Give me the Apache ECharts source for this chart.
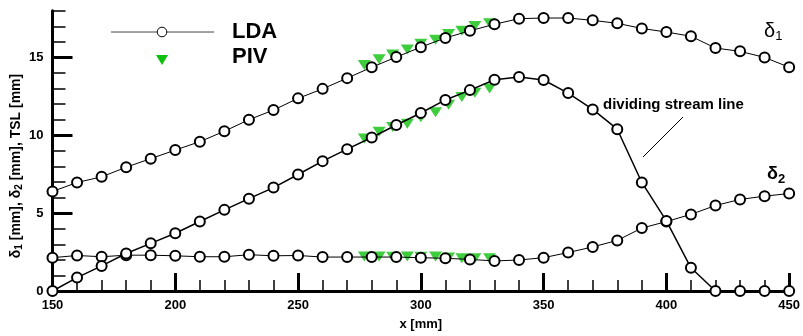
<!DOCTYPE html>
<html>
<head>
<meta charset="utf-8">
<script src="https://cdn.jsdelivr.net/npm/echarts@6/dist/echarts.min.js"></script>
<style>
  html, body { margin: 0; padding: 0; background: #fff; }
  #chart { width: 803px; height: 336px; }
</style>
</head>
<body>
<div id="chart"></div>
<script>
// LDA stations, x [mm]
const xLDA = [150, 160, 170, 180, 190, 200, 210, 220, 230, 240, 250, 260, 270, 280, 290, 300,
  310, 320, 330, 340, 350, 360, 370, 380, 390, 400, 410, 420, 430, 440, 450];
const delta1LDA = [6.39, 6.97, 7.33, 7.95, 8.5, 9.05, 9.59, 10.26, 11.0, 11.62, 12.37, 12.98, 13.67, 14.37, 15.02, 15.66,
  16.25, 16.71, 17.13, 17.49, 17.53, 17.53, 17.38, 17.19, 16.86, 16.63, 16.36, 15.6, 15.39, 15.0, 14.37];
const delta2LDA = [2.14, 2.28, 2.2, 2.3, 2.3, 2.26, 2.2, 2.2, 2.33, 2.26, 2.28, 2.18, 2.18, 2.18, 2.18, 2.14,
  2.1, 2.03, 1.93, 1.99, 2.14, 2.47, 2.83, 3.25, 4.04, 4.46, 4.92, 5.49, 5.88, 6.09, 6.26];
const tslLDA = [0, 0.86, 1.61, 2.41, 3.06, 3.71, 4.46, 5.21, 5.93, 6.64, 7.48, 8.34, 9.11, 9.86, 10.66, 11.43,
  12.27, 12.9, 13.57, 13.74, 13.55, 12.71, 11.66, 10.39, 6.97, 4.5, 1.49, 0, 0, 0, 0];

// PIV stations
const xPIV = [277, 283, 288.5, 294.5, 300, 306, 311.3, 316.7, 322, 328];
const delta1PIV = [14.51, 14.89, 15.18, 15.51, 15.87, 16.14, 16.5, 16.71, 17.02, 17.19];
const tslPIV = [9.8, 10.22, 10.53, 10.74, 11.16, 11.48, 11.96, 12.46, 12.73, 13.0];
const delta2PIV = [2.22, 2.22, 2.2, 2.22, 2.2, 2.22, 2.15, 2.1, 2.1, 2.1];

// axis ticks
const yMinorTicks = [0, 1, 2, 3, 4, 5, 6, 7, 8, 9, 10, 11, 12, 13, 14, 15, 16, 17, 18];
const yMajorTicks = [0, 5, 10, 15];

const FONT = "'Liberation Sans', Arial, sans-serif";
const GREEN = '#0cc00c';

const zip = (xs, ys) => xs.map((x, i) => [x, ys[i]]);

const chart = echarts.init(document.getElementById('chart'), null, { renderer: 'canvas' });

const ldaSeries = (name, ys, bold) => ({
  type: 'line',
  name,
  data: zip(xLDA, ys),
  symbol: 'emptyCircle',
  symbolSize: 10,
  clip: false,
  z: 5,
  lineStyle: { color: '#000', width: bold ? 1.5 : 1 },
  itemStyle: { color: '#000', borderWidth: bold ? 2 : 1 },
  animation: false,
});

const pivSeries = (name, ys) => ({
  type: 'scatter',
  name,
  data: zip(xPIV, ys),
  symbol: 'triangle',
  symbolRotate: 180,
  symbolSize: [13, 10],
  z: 3,
  itemStyle: { color: GREEN },
  animation: false,
});

const option = {
  animation: false,
  grid: { left: 52.5, right: 5, top: 10.7, bottom: 38.3, containLabel: false },
  xAxis: {
    type: 'value',
    min: 150,
    max: 450,
    interval: 50,
    name: 'x [mm]',
    nameLocation: 'middle',
    nameGap: 27,
    nameTextStyle: { fontFamily: FONT, fontWeight: 'bold', fontSize: 13, color: '#000' },
    axisLine: { show: true, lineStyle: { color: '#000', width: 3 } },
    axisTick: { show: true, inside: true, length: 18, lineStyle: { color: '#000', width: 3 } },
    minorTick: { show: true, splitNumber: 5, length: 11, lineStyle: { color: '#000', width: 1.5 } },
    axisLabel: { fontFamily: FONT, fontWeight: 'bold', fontSize: 13, color: '#000', margin: 8 },
    splitLine: { show: false },
  },
  yAxis: [
    {
      type: 'value',
      min: 0,
      max: 18,
      position: 'left',
      axisLine: { show: true, onZero: false, lineStyle: { color: '#000', width: 3 } },
      axisTick: { show: true, inside: true, length: 13, customValues: yMinorTicks, lineStyle: { color: '#000', width: 1.5 } },
      axisLabel: { show: false },
      splitLine: { show: false },
    },
    {
      type: 'value',
      min: 0,
      max: 18,
      position: 'left',
      offset: 0,
      axisLine: { show: false },
      axisTick: { show: true, inside: true, length: 20, customValues: yMajorTicks, lineStyle: { color: '#000', width: 3 } },
      axisLabel: { show: true, customValues: yMajorTicks, fontFamily: FONT, fontWeight: 'bold', fontSize: 13, color: '#000', margin: 9 },
      splitLine: { show: false },
    },
  ],
  series: [
    pivSeries('PIV δ1', delta1PIV),
    pivSeries('PIV TSL', tslPIV),
    pivSeries('PIV δ2', delta2PIV),
    ldaSeries('δ1', delta1LDA, false),
    ldaSeries('δ2', delta2LDA, false),
    ldaSeries('TSL', tslLDA, true),
  ],
  graphic: [
    // y axis title
    {
      type: 'text',
      x: 16,
      y: 166,
      rotation: Math.PI / 2,
      style: {
        text: '{n|δ}{s|1}{n| [mm], δ}{s|2}{n| [mm], TSL [mm]}',
        align: 'center',
        verticalAlign: 'middle',
        rich: {
          n: { fontFamily: FONT, fontWeight: 'bold', fontSize: 14, fill: '#000' },
          s: { fontFamily: FONT, fontWeight: 'bold', fontSize: 10, fill: '#000', verticalAlign: 'bottom', padding: [6, 0, 0, 0] },
        },
      },
    },
    // legend
    { type: 'line', shape: { x1: 111, y1: 32, x2: 214, y2: 32 }, style: { stroke: '#444', lineWidth: 1 } },
    { type: 'circle', shape: { cx: 162, cy: 32, r: 4.8 }, style: { fill: '#fff', stroke: '#000', lineWidth: 1 } },
    { type: 'text', x: 232, y: 31.5, style: { text: 'LDA', fontFamily: FONT, fontWeight: 'bold', fontSize: 22, fill: '#000', verticalAlign: 'middle' } },
    { type: 'polygon', shape: { points: [[156, 55], [168, 55], [162, 65]] }, style: { fill: GREEN } },
    { type: 'text', x: 232, y: 57, style: { text: 'PIV', fontFamily: FONT, fontWeight: 'bold', fontSize: 22, fill: '#000', verticalAlign: 'middle' } },
    // curve labels
    {
      type: 'text', x: 764, y: 20,
      style: {
        text: '{d|δ}{s|1}',
        rich: {
          d: { fontFamily: FONT, fontSize: 20, fill: '#000' },
          s: { fontFamily: FONT, fontSize: 13, fill: '#000', verticalAlign: 'bottom', padding: [10, 0, 0, 0] },
        },
      },
    },
    {
      type: 'text', x: 767, y: 163,
      style: {
        text: '{d|δ}{s|2}',
        rich: {
          d: { fontFamily: FONT, fontWeight: 'bold', fontSize: 18, fill: '#000' },
          s: { fontFamily: FONT, fontWeight: 'bold', fontSize: 13, fill: '#000', verticalAlign: 'bottom', padding: [10, 0, 0, 0] },
        },
      },
    },
    // annotation
    { type: 'text', x: 603, y: 105, style: { text: 'dividing stream line', fontFamily: FONT, fontWeight: 'bold', fontSize: 15, fill: '#000', verticalAlign: 'middle' } },
    { type: 'line', shape: { x1: 683, y1: 117, x2: 643, y2: 157 }, style: { stroke: '#000', lineWidth: 1 } },
  ],
};

chart.setOption(option);
</script>
</body>
</html>
